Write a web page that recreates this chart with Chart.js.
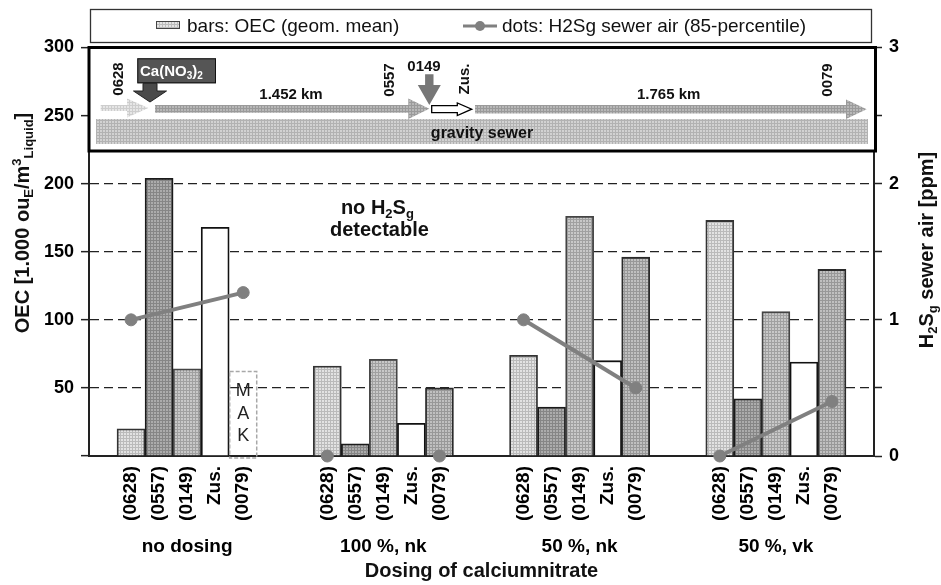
<!DOCTYPE html>
<html><head><meta charset="utf-8">
<script src="https://cdn.jsdelivr.net/npm/chart.js@4/dist/chart.umd.min.js"></script>
<style>html,body{margin:0;padding:0;background:#fff}#wrap{width:941px;height:585px;position:relative}</style>
</head><body><div id="wrap"><canvas id="c" width="941" height="585"></canvas></div>
<script>
// ---------- data ----------
const groups = ['no dosing', '100 %, nk', '50 %, nk', '50 %, vk'];
const stations = ['(0628)', '(0557)', '(0149)', 'Zus.', '(0079)'];
const oecNoDosing = [20, 204, 64, 168, null];
const oec100nk   = [66, 9, 71, 24, 50];
const oec50nk    = [74, 36, 176, 70, 146];
const oec50vk    = [173, 42, 106, 69, 137];
const h2s0628 = [1.0, 0, 1.0, 0];
const h2s0079 = [1.2, 0, 0.5, 0.4];
const makValue = 62;
const makLetters = ['M', 'A', 'K'];
const makLetterValues = [48, 31, 15];
const oecMax = 300, oecStep = 50;
const h2sMax = 3, h2sStep = 0.5;

// ---------- build slots ----------
const FONT = '"Liberation Sans", Arial, Helvetica, sans-serif';
const NSLOT = 1 + groups.length * 7 - 2 + 1;
const slotOf = (g, i) => 1 + 7 * g + i;
const oecByGroup = [oecNoDosing, oec100nk, oec50nk, oec50vk];
const stationLabels = new Array(NSLOT).fill('');
const groupLabels = new Array(NSLOT).fill('');
const barValues = new Array(NSLOT).fill(null);

const ctx0 = document.getElementById('c').getContext('2d');
function makePattern(base, line) {
  const c = document.createElement('canvas'); c.width = c.height = 3;
  const x = c.getContext('2d');
  x.fillStyle = base; x.fillRect(0, 0, 3, 3);
  x.fillStyle = line; x.fillRect(0, 0, 3, 1); x.fillRect(0, 0, 1, 3);
  return ctx0.createPattern(c, 'repeat');
}
const stationFills = [
  makePattern('#e2e2e2', '#bababa'),
  makePattern('#acacac', '#868686'),
  makePattern('#c8c8c8', '#a0a0a0'),
  '#ffffff',
  makePattern('#c0c0c0', '#989898')
];
const stationBorders = ['#333333', '#1a1a1a', '#444444', '#111111', '#2a2a2a'];
const barFills = new Array(NSLOT).fill('#fff');
const barBorders = new Array(NSLOT).fill('#000');

groups.forEach((gname, g) => {
  stations.forEach((s, i) => {
    const k = slotOf(g, i);
    stationLabels[k] = s;
    barValues[k] = oecByGroup[g][i];
    barFills[k] = stationFills[i];
    barBorders[k] = stationBorders[i];
  });
  groupLabels[slotOf(g, 2)] = gname;
});

const lineSets = groups.map((gname, g) => {
  const d = new Array(NSLOT).fill(null);
  d[slotOf(g, 0)] = h2s0628[g];
  d[slotOf(g, 4)] = h2s0079[g];
  return {
    type: 'line', label: 'dots: H2Sg sewer air (85-percentile)', data: d, yAxisID: 'y2',
    spanGaps: true, showLine: !(h2s0628[g] === 0 && h2s0079[g] === 0),
    borderColor: '#808080', borderWidth: 4, pointRadius: 6, pointHoverRadius: 6,
    pointBackgroundColor: '#808080', pointBorderColor: '#808080', pointBorderWidth: 1,
    clip: false, order: 0
  };
});

// ---------- helpers ----------
function drawRich(ctx, parts, x, y, align) {
  let w = 0;
  for (const p of parts) { ctx.font = `${p.w || 'bold'} ${p.s}px ${FONT}`; w += ctx.measureText(p.t).width; }
  let cx = align === 'center' ? x - w / 2 : x;
  ctx.textAlign = 'left'; ctx.textBaseline = 'alphabetic';
  for (const p of parts) {
    ctx.font = `${p.w || 'bold'} ${p.s}px ${FONT}`;
    ctx.fillText(p.t, cx, y + (p.dy || 0));
    cx += ctx.measureText(p.t).width;
  }
}
function vtext(ctx, t, cx, cy, font) {
  ctx.save(); ctx.translate(cx, cy); ctx.rotate(-Math.PI / 2);
  ctx.font = font; ctx.textAlign = 'center'; ctx.textBaseline = 'middle';
  ctx.fillText(t, 0, 0); ctx.restore();
}
function arrowRight(ctx, x0, x1, hs, cy, sh, hh, fill, stroke, lw) {
  ctx.beginPath();
  ctx.moveTo(x0, cy - sh); ctx.lineTo(hs, cy - sh); ctx.lineTo(hs, cy - hh); ctx.lineTo(x1, cy);
  ctx.lineTo(hs, cy + hh); ctx.lineTo(hs, cy + sh); ctx.lineTo(x0, cy + sh); ctx.closePath();
  ctx.fillStyle = fill; ctx.fill();
  if (stroke) { ctx.lineWidth = lw || 1; ctx.strokeStyle = stroke; ctx.stroke(); }
}
function arrowDown(ctx, cx, y0, hs, y1, sh, hh, fill, stroke) {
  ctx.beginPath();
  ctx.moveTo(cx - sh, y0); ctx.lineTo(cx - sh, hs); ctx.lineTo(cx - hh, hs); ctx.lineTo(cx, y1);
  ctx.lineTo(cx + hh, hs); ctx.lineTo(cx + sh, hs); ctx.lineTo(cx + sh, y0); ctx.closePath();
  ctx.fillStyle = fill; ctx.fill();
  if (stroke) { ctx.lineWidth = 1; ctx.strokeStyle = stroke; ctx.stroke(); }
}

const lightFill = makePattern('#e6e6e6', '#cdcdcd');
const midFill = makePattern('#b8b8b8', '#9a9a9a');
const bandFill = makePattern('#d2d2d2', '#b2b2b2');
const legendBarFill = makePattern('#e4e4e4', '#bdbdbd');

const decor = {
  id: 'decor',
  afterDatasetsDraw(chart) {
    const { ctx, scales: { x, y } } = chart;
    const k = slotOf(0, 4);
    const cx = x.getPixelForValue(k);
    const half = (x.getPixelForValue(1) - x.getPixelForValue(0)) / 2;
    ctx.save();
    ctx.setLineDash([4, 2]); ctx.lineWidth = 1.5; ctx.strokeStyle = '#a8a8a8';
    ctx.strokeRect(cx - half + 0.5, y.getPixelForValue(makValue), 2 * half - 1, y.getPixelForValue(0) - y.getPixelForValue(makValue) + 2);
    ctx.setLineDash([]);
    ctx.fillStyle = '#222'; ctx.font = `18px ${FONT}`; ctx.textAlign = 'center'; ctx.textBaseline = 'middle';
    makLetters.forEach((l, i) => ctx.fillText(l, cx, y.getPixelForValue(makLetterValues[i])));
    // annotation text
    ctx.fillStyle = '#111';
    const ax = x.getPixelForValue(slotOf(1, 2)) - 6;
    drawRich(ctx, [{ t: 'no H', s: 20 }, { t: '2', s: 13, dy: 4 }, { t: 'S', s: 20 }, { t: 'g', s: 13, dy: 4 }], ax, 214, 'center');
    drawRich(ctx, [{ t: 'detectable', s: 20 }], ax + 2, 236, 'center');
    ctx.restore();
  },
  afterDraw(chart) {
    const { ctx, chartArea: ca } = chart;
    ctx.save();
    // ---- legend ----
    ctx.fillStyle = '#fff'; ctx.fillRect(90, 9, 782, 34);
    ctx.lineWidth = 1.3; ctx.strokeStyle = '#333'; ctx.strokeRect(90.5, 9.5, 781, 33);
    ctx.fillStyle = legendBarFill; ctx.fillRect(156, 21, 24, 8);
    ctx.lineWidth = 1; ctx.strokeStyle = '#444'; ctx.strokeRect(156.5, 21.5, 23, 7);
    ctx.fillStyle = '#111'; ctx.font = `19px ${FONT}`; ctx.textAlign = 'left'; ctx.textBaseline = 'middle';
    ctx.fillText(chart.data.datasets[4].label, 187, 27);
    ctx.strokeStyle = '#808080'; ctx.lineWidth = 3;
    ctx.beginPath(); ctx.moveTo(463, 26); ctx.lineTo(497, 26); ctx.stroke();
    ctx.fillStyle = '#808080'; ctx.beginPath(); ctx.arc(480, 26, 5, 0, Math.PI * 2); ctx.fill();
    ctx.fillStyle = '#111';
    ctx.fillText(chart.data.datasets[0].label, 502, 27);

    // ---- pipe diagram box ----
    const top = ca.top, bot = 151;
    ctx.fillStyle = '#fff'; ctx.fillRect(ca.left, top, ca.right - ca.left + 2, bot - top);
    ctx.lineWidth = 3; ctx.strokeStyle = '#000';
    ctx.strokeRect(ca.left, top, ca.right - ca.left + 1.5, bot - top);
    // band
    ctx.fillStyle = bandFill; ctx.fillRect(96, 119, 772, 25);
    ctx.fillStyle = '#111'; ctx.font = `bold 16px ${FONT}`; ctx.textAlign = 'center'; ctx.textBaseline = 'alphabetic';
    ctx.fillText('gravity sewer', 482, 138);
    // arrows
    arrowRight(ctx, 100.7, 148.3, 127, 108, 3, 9.5, lightFill);
    arrowRight(ctx, 155, 429.3, 408.3, 108.8, 3.9, 10.3, midFill);
    arrowRight(ctx, 475, 866.7, 846, 109.2, 4.2, 9.8, midFill);
    arrowRight(ctx, 431.7, 471.7, 457.3, 109.2, 3.5, 6.3, '#fff', '#000', 1.3);
    arrowDown(ctx, 150, 83.3, 91, 102, 7, 16.5, '#4a4a4a', '#222');
    arrowDown(ctx, 429.3, 74.3, 85, 105, 4.2, 11.5, '#777');
    // Ca(NO3)2 box
    ctx.fillStyle = '#555'; ctx.fillRect(137.3, 58.3, 78.7, 25);
    ctx.lineWidth = 1; ctx.strokeStyle = '#111'; ctx.strokeRect(137.8, 58.8, 77.7, 24);
    ctx.fillStyle = '#fff';
    drawRich(ctx, [{ t: 'Ca(NO', s: 15 }, { t: '3', s: 10, dy: 3 }, { t: ')', s: 15 }, { t: '2', s: 10, dy: 3 }], 140, 76, 'left');
    // texts
    ctx.fillStyle = '#111';
    const f15 = `bold 15px ${FONT}`;
    ctx.font = f15; ctx.textAlign = 'center'; ctx.textBaseline = 'alphabetic';
    ctx.fillText('1.452 km', 291, 99);
    ctx.fillText('1.765 km', 668.7, 99);
    ctx.fillText('0149', 424, 71);
    vtext(ctx, '0628', 118.5, 79, f15);
    vtext(ctx, '0557', 389.5, 80, f15);
    vtext(ctx, 'Zus.', 465, 79, f15);
    vtext(ctx, '0079', 828.3, 80, f15);

    // ---- axis titles ----
    ctx.fillStyle = '#111';
    ctx.save(); ctx.translate(29, 223); ctx.rotate(-Math.PI / 2);
    drawRich(ctx, [{ t: 'OEC [1.000 ou', s: 20 }, { t: 'E', s: 13, dy: 4 }, { t: '/m', s: 20 }, { t: '3', s: 13, dy: -8 }, { t: 'Liquid', s: 13, dy: 4 }, { t: ']', s: 20 }], 0, 0, 'center');
    ctx.restore();
    ctx.save(); ctx.translate(933, 250); ctx.rotate(-Math.PI / 2);
    drawRich(ctx, [{ t: 'H', s: 20 }, { t: '2', s: 13, dy: 4 }, { t: 'S', s: 20 }, { t: 'g', s: 13, dy: 4 }, { t: ' sewer air [ppm]', s: 20 }], 0, 0, 'center');
    ctx.restore();
    ctx.restore();
  }
};

new Chart(document.getElementById('c'), {
  type: 'bar',
  data: {
    labels: stationLabels,
    datasets: [...lineSets, {
      type: 'bar', label: 'bars: OEC (geom. mean)', data: barValues, yAxisID: 'y',
      backgroundColor: barFills, borderColor: barBorders, borderWidth: 1.8,
      barPercentage: 1, categoryPercentage: 1, order: 1
    }]
  },
  options: {
    responsive: false, animation: false, devicePixelRatio: 1,
    layout: { padding: { top: 47.5, left: 0, right: 0, bottom: 0 } },
    plugins: { legend: { display: false }, tooltip: { enabled: false } },
    scales: {
      x: {
        type: 'category', offset: true, weight: 0,
        grid: { display: false, drawTicks: false },
        border: { display: true, color: '#222', width: 2 },
        ticks: { autoSkip: false, minRotation: 90, maxRotation: 90, padding: 10, color: '#000', font: { family: FONT, size: 19, weight: 'bold' } },
        afterFit: s => { s.height = 70; }
      },
      x2: {
        type: 'category', labels: groupLabels, offset: true, position: 'bottom', weight: 1,
        grid: { display: false, drawTicks: false }, border: { display: false },
        ticks: { autoSkip: false, maxRotation: 0, minRotation: 0, padding: 9, color: '#000', font: { family: FONT, size: 19, weight: 'bold' } },
        title: { display: true, text: 'Dosing of calciumnitrate', color: '#111', font: { family: FONT, size: 20, weight: 'bold' }, padding: { top: 0, bottom: 2 } },
        afterFit: s => { s.height = 59; }
      },
      y: {
        position: 'left', min: 0, max: oecMax,
        ticks: { stepSize: oecStep, padding: 7, color: '#000', font: { family: FONT, size: 18, weight: 'bold' }, callback: v => v === 0 ? '' : v },
        grid: { color: c => (c.tick && (c.tick.value === 0 || c.tick.value === oecMax)) ? 'rgba(0,0,0,0)' : '#222', lineWidth: 1.3, drawTicks: true, tickLength: 8, tickColor: '#222', tickWidth: 1.5, tickBorderDash: [] },
        border: { display: true, color: '#222', width: 2, dash: [9, 5] },
        afterFit: s => { s.width = 89; }
      },
      y2: {
        position: 'right', min: 0, max: h2sMax,
        ticks: { stepSize: h2sStep, padding: 7, color: '#000', font: { family: FONT, size: 18, weight: 'bold' }, callback: v => Number.isInteger(v) ? v : '' },
        grid: { drawOnChartArea: false, drawTicks: true, tickLength: 8, tickColor: '#222', tickWidth: 1.5 },
        border: { display: true, color: '#222', width: 2 },
        afterFit: s => { s.width = 67; }
      }
    }
  },
  plugins: [decor]
});
</script>
</body></html>
